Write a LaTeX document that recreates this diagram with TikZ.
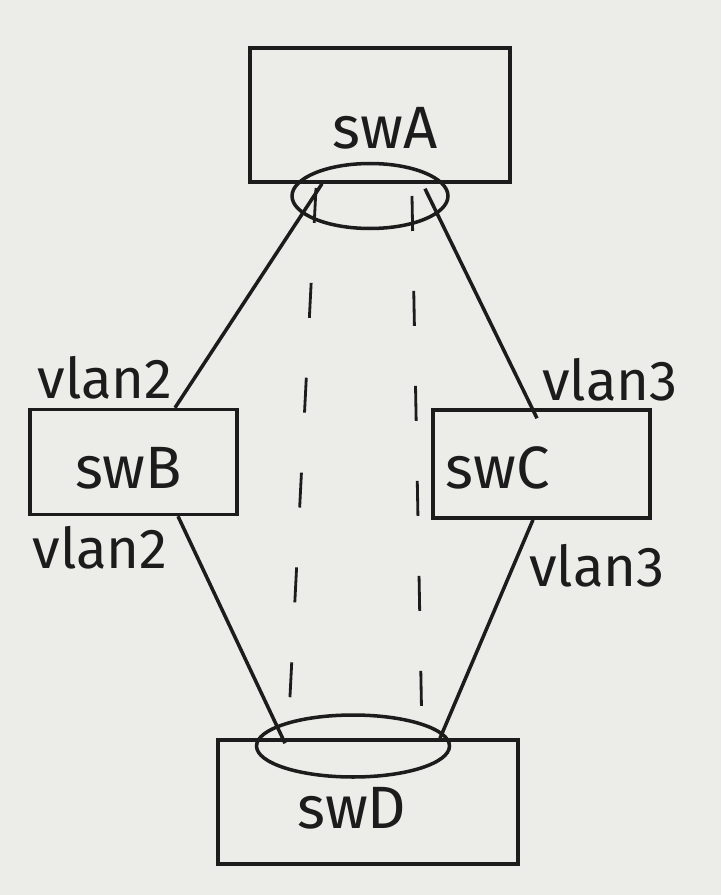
\documentclass[tikz,border=0pt]{standalone}
\usepackage{fontspec}
\setmainfont{Fira Sans}
\usetikzlibrary{shapes.geometric}
\definecolor{paper}{RGB}{236,236,232}
\definecolor{pen}{RGB}{28,28,28}
\tikzset{
  swbox/.style={draw=pen, line width=2pt, rectangle, inner sep=0pt},
  swtext/.style={text=pen, font=\fontsize{34}{40}\selectfont},
  lag/.style={draw=pen, line width=2pt, ellipse, inner sep=0pt},
  vlan/.style={text=pen, font=\fontsize{32}{38}\selectfont},
}
\begin{document}
\begin{tikzpicture}[x=0.02cm,y=-0.02cm]
      \fill[paper] (0,0) rectangle (721,895);
      \useasboundingbox (0,0) rectangle (721,895);
      \draw
        (380,115) node[swbox, minimum width=5.2cm, minimum height=2.68cm,
          label={[swtext, xshift=0.1cm, yshift=-0.26cm]center:swA}] (A){}
        (133.5,462) node[swbox, minimum width=4.14cm, minimum height=2.1cm,
          label={[swtext, xshift=-0.1cm, yshift=-0.12cm]center:swB}] (B){}
        (541.5,464) node[swbox, minimum width=4.34cm, minimum height=2.16cm,
          label={[swtext, xshift=-0.88cm, yshift=-0.08cm]center:swC}] (C){}
        (368,802) node[swbox, minimum width=6cm, minimum height=2.48cm,
          label={[swtext, xshift=-0.32cm, yshift=-0.12cm]center:swD}] (D){}
        (370,196) node[lag, minimum width=3.12cm, minimum height=1.3cm] (lagA){}
        (353,746) node[lag, minimum width=3.86cm, minimum height=1.24cm] (lagD){}
        (105,378) node[vlan] (vlanBup){vlan2}
        (100,548) node[vlan] (vlanBdown){vlan2}
        (610,380) node[vlan] (vlanCup){vlan3}
        (597,566) node[vlan] (vlanCdown){vlan3};
      \begin{scope}[draw=pen, line width=2pt]
        \draw ([xshift=-1.16cm]A.south) to ([xshift=0.83cm]B.north);
        \draw ([xshift=0.9cm,yshift=-0.1cm]A.south) to ([xshift=-0.09cm,yshift=-0.2cm]C.north);
        \draw ([xshift=0.89cm]B.south) to ([xshift=-1.66cm,yshift=-0.1cm]D.north);
        \draw ([xshift=-0.17cm]C.south) to ([xshift=1.44cm]D.north);
      \end{scope}
      \begin{scope}[draw=pen, line width=1.6pt, dash pattern=on 0.7cm off 1.2cm]
        \draw ([xshift=-1.08cm,yshift=0.16cm]lagA.center) to ([xshift=-1.3cm,yshift=0.22cm]lagD.center);
        \draw ([xshift=0.84cm]lagA.center) to ([xshift=1.38cm,yshift=0.22cm]lagD.center);
      \end{scope}
    \end{tikzpicture}
\end{document}
